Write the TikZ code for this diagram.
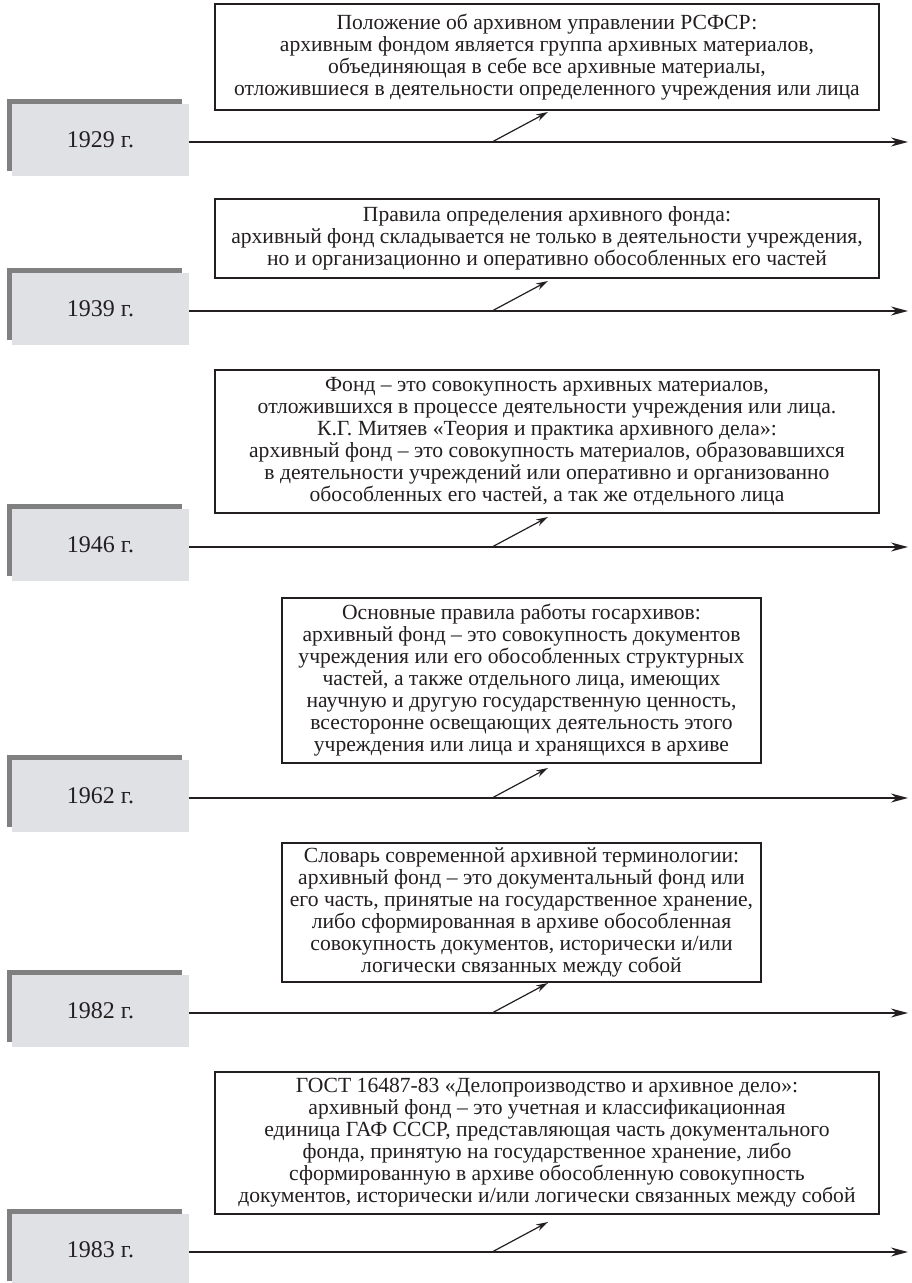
\documentclass[tikz,border=0pt]{standalone}
\usepackage{fontspec}
\setmainfont{Liberation Serif}
\usetikzlibrary{arrows.meta}
\definecolor{ink}{HTML}{231F20}
\definecolor{yrfill}{HTML}{E0E1E5}
\definecolor{yrshade}{HTML}{808080}
\tikzset{
  defbox/.style={draw=ink, line width=1.3pt, fill=white, align=center, inner sep=0pt,
    font=\fontsize{21.6}{22}\selectfont, text=ink},
  yearbox/.style={fill=yrfill, minimum width=177pt, minimum height=72pt, inner sep=0pt,
    font=\fontsize{24}{28}\selectfont, text=ink},
  shadebox/.style={fill=yrshade, minimum width=175pt, minimum height=72pt, inner sep=0pt},
  tline/.style={draw=ink, line width=1.4pt, -{Stealth[length=17pt,width=9pt]}},
  diag/.style={draw=ink, line width=1.2pt, -{Stealth[length=12pt,width=7pt]}},
}
\begin{document}
\begin{tikzpicture}[x=1pt,y=-1pt]
\useasboundingbox (0,0) rectangle (912,1283);

% ---------- definition boxes ----------
\node[defbox, minimum width=664pt, minimum height=106pt] (b1) at (547,57)
 {Положение об архивном управлении РСФСР:\\
  архивным фондом является группа архивных материалов,\\
  объединяющая в себе все архивные материалы,\\
  отложившиеся в деятельности определенного учреждения или лица};
\node[defbox, minimum width=664pt, minimum height=79pt] (b2) at (547,238.5)
 {Правила определения архивного фонда:\\
  архивный фонд складывается не только в деятельности учреждения,\\
  но и организационно и оперативно обособленных его частей};
\node[defbox, minimum width=664pt, minimum height=143pt] (b3) at (547,441.5)
 {Фонд – это совокупность архивных материалов,\\
  отложившихся в процессе деятельности учреждения или лица.\\
  К.Г. Митяев «Теория и практика архивного дела»:\\
  архивный фонд – это совокупность материалов, образовавшихся\\
  в деятельности учреждений или оперативно и организованно\\
  обособленных его частей, а так же отдельного лица};
\node[defbox, minimum width=479pt, minimum height=165pt] (b4) at (521.5,680.5)
 {Основные правила работы госархивов:\\
  архивный фонд – это совокупность документов\\
  учреждения или его обособленных структурных\\
  частей, а также отдельного лица, имеющих\\
  научную и другую государственную ценность,\\
  всесторонне освещающих деятельность этого\\
  учреждения или лица и хранящихся в архиве};
\node[defbox, minimum width=479pt, minimum height=139pt] (b5) at (521.5,912.5)
 {Словарь современной архивной терминологии:\\
  архивный фонд – это документальный фонд или\\
  его часть, принятые на государственное хранение,\\
  либо сформированная в архиве обособленная\\
  совокупность документов, исторически и/или\\
  логически связанных между собой};
\node[defbox, minimum width=664pt, minimum height=142pt] (b6) at (547,1143)
 {ГОСТ 16487-83 «Делопроизводство и архивное дело»:\\
  архивный фонд – это учетная и классификационная\\
  единица ГАФ СССР, представляющая часть документального\\
  фонда, принятую на государственное хранение, либо\\
  сформированную в архиве обособленную совокупность\\
  документов, исторически и/или логически связанных между собой};

% ---------- year boxes ----------
\node[shadebox] (s1) at (94.5,135) {};
\node[yearbox] (y1) at (100.5,140) {1929 г.};
\node[shadebox] (s2) at (94.5,304) {};
\node[yearbox] (y2) at (100.5,309) {1939 г.};
\node[shadebox] (s3) at (94.5,540) {};
\node[yearbox] (y3) at (100.5,545) {1946 г.};
\node[shadebox] (s4) at (94.5,791) {};
\node[yearbox] (y4) at (100.5,796) {1962 г.};
\node[shadebox] (s5) at (94.5,1006) {};
\node[yearbox] (y5) at (100.5,1011) {1982 г.};
\node[shadebox] (s6) at (94.5,1245) {};
\node[yearbox] (y6) at (100.5,1250) {1983 г.};

% ---------- timelines ----------
\coordinate (e1) at (908,142);
\coordinate (e2) at (908,311);
\coordinate (e3) at (908,547);
\coordinate (e4) at (908,798);
\coordinate (e5) at (908,1013);
\coordinate (e6) at (908,1252);
\draw[tline] (y1.east |- e1) -- (e1);
\draw[tline] (y2.east |- e2) -- (e2);
\draw[tline] (y3.east |- e3) -- (e3);
\draw[tline] (y4.east |- e4) -- (e4);
\draw[tline] (y5.east |- e5) -- (e5);
\draw[tline] (y6.east |- e6) -- (e6);

% ---------- diagonal arrows ----------
\coordinate (d1) at (492,142);
\coordinate (d2) at (492,311);
\coordinate (d3) at (492,547);
\coordinate (d4) at (492,798);
\coordinate (d5) at (492,1013);
\coordinate (d6) at (492,1252);
\coordinate (t1) at (548,112);
\coordinate (t2) at (548,281);
\coordinate (t3) at (548,517);
\coordinate (t4) at (548,768);
\coordinate (t5) at (548,983);
\coordinate (t6) at (548,1222);
\draw[diag] (d1) -- (t1);
\draw[diag] (d2) -- (t2);
\draw[diag] (d3) -- (t3);
\draw[diag] (d4) -- (t4);
\draw[diag] (d5) -- (t5);
\draw[diag] (d6) -- (t6);
\end{tikzpicture}
\end{document}
